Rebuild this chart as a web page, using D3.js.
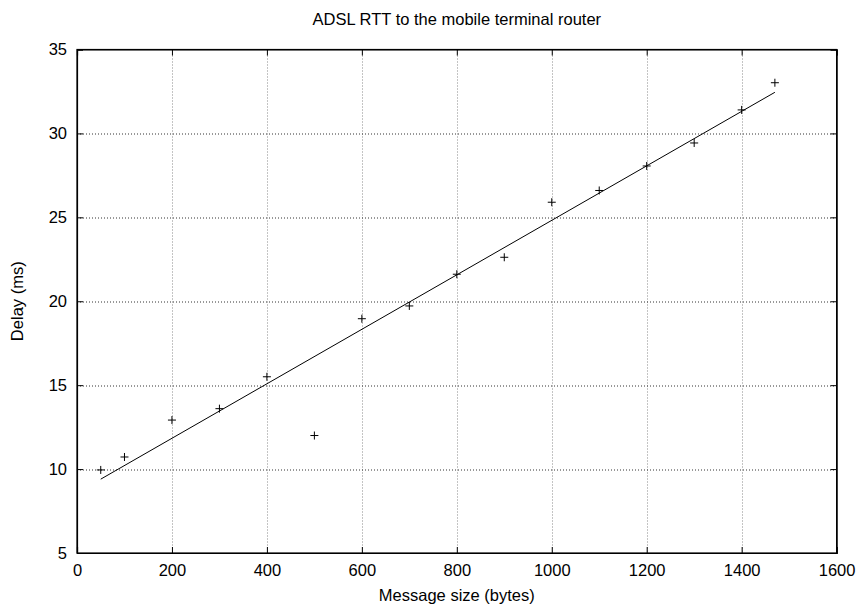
<!DOCTYPE html>
<html>
<head>
<meta charset="utf-8">
<script src="https://cdn.jsdelivr.net/npm/d3@7"></script>
<style>
  body { margin: 0; background: #fff; }
  text { font-family: "Liberation Sans", Arial, sans-serif; fill: #000; }
</style>
</head>
<body>
<div id="chart"></div>
<script>
// measured points
const sizes = [50, 100, 200, 300, 400, 500, 600, 700, 800, 900, 1000, 1100, 1200, 1300, 1400, 1470]
const delays = [9.95, 10.72, 12.92, 13.6, 15.5, 12.0, 18.96, 19.72, 21.61, 22.62, 25.9, 26.6, 28.06, 29.43, 31.4, 33.02]
// fitted line end points
const fitX = [50, 1470]
const fitY = [9.4, 32.45]

const xTicks = [0, 200, 400, 600, 800, 1000, 1200, 1400, 1600]
const yTicks = [5, 10, 15, 20, 25, 30, 35]

const W = 862, H = 606
const margin = {top: 49.5, right: 25.4, bottom: 53, left: 77}
const width = W - margin.left - margin.right
const height = H - margin.top - margin.bottom
const fs = "16.5px"

var x = d3.scaleLinear().domain([0, 1600]).range([0, width])
var y = d3.scaleLinear().domain([5, 35]).range([height, 0])

var svg = d3.select("#chart").append("svg")
  .attr("width", W).attr("height", H)
  .append("g")
  .attr("transform", "translate(" + margin.left + "," + margin.top + ")")

// grid
svg.append("g").selectAll("line")
  .data(xTicks.slice(1, -1))
  .join("line")
  .attr("x1", d => Math.round(x(d)) + 0.5).attr("x2", d => Math.round(x(d)) + 0.5)
  .attr("y1", 0).attr("y2", height)
  .attr("stroke", "#888").attr("stroke-dasharray", "1,2")

svg.append("g").selectAll("line")
  .data(yTicks.slice(1, -1))
  .join("line")
  .attr("x1", 0).attr("x2", width)
  .attr("y1", d => Math.round(y(d)) + 0.5).attr("y2", d => Math.round(y(d)) + 0.5)
  .attr("stroke", "#333").attr("stroke-dasharray", "1,2")

// axes: inward ticks, mirrored
svg.append("g")
  .attr("transform", "translate(0," + height + ")")
  .call(d3.axisBottom(x).tickValues(xTicks).tickSize(-6).tickPadding(11).tickFormat(d3.format("d")))
svg.append("g")
  .call(d3.axisTop(x).tickValues(xTicks).tickSize(-6).tickFormat(""))
svg.append("g")
  .call(d3.axisLeft(y).tickValues(yTicks).tickSize(-6).tickPadding(10))
svg.append("g")
  .attr("transform", "translate(" + width + ",0)")
  .call(d3.axisRight(y).tickValues(yTicks).tickSize(-6).tickFormat(""))

svg.selectAll(".domain").attr("stroke", "#000").attr("stroke-width", 1.2)
svg.selectAll(".tick line").attr("stroke", "#000")
svg.selectAll(".tick text").style("font-size", fs).style("font-family", "Liberation Sans, Arial, sans-serif")

// border
svg.append("rect")
  .attr("x", 0).attr("y", 0).attr("width", width).attr("height", height)
  .attr("fill", "none").attr("stroke", "#000").attr("stroke-width", 1.2)

// fit line
svg.append("path")
  .datum(fitX.map((d, i) => ({x: d, y: fitY[i]})))
  .attr("fill", "none")
  .attr("stroke", "#000")
  .attr("stroke-width", 1)
  .attr("d", d3.line().x(d => x(d.x)).y(d => y(d.y)))

// points as plus marks
var pts = sizes.map((d, i) => ({x: d, y: delays[i]}))
svg.append("g").selectAll("path")
  .data(pts)
  .join("path")
  .attr("d", d => {
    var px = x(d.x), py = y(d.y)
    return "M" + (px - 4) + "," + py + "H" + (px + 4) + "M" + px + "," + (py - 4) + "V" + (py + 4)
  })
  .attr("stroke", "#000")
  .attr("stroke-width", 1)

// labels
svg.append("text")
  .attr("x", width / 2).attr("y", -25)
  .attr("text-anchor", "middle")
  .style("font-size", fs)
  .text("ADSL RTT to the mobile terminal router")

svg.append("text")
  .attr("x", width / 2).attr("y", height + 48)
  .attr("text-anchor", "middle")
  .style("font-size", fs)
  .text("Message size (bytes)")

svg.append("text")
  .attr("transform", "translate(" + (-54) + "," + (height / 2) + ") rotate(-90)")
  .attr("text-anchor", "middle")
  .style("font-size", fs)
  .text("Delay (ms)")
</script>
</body>
</html>
